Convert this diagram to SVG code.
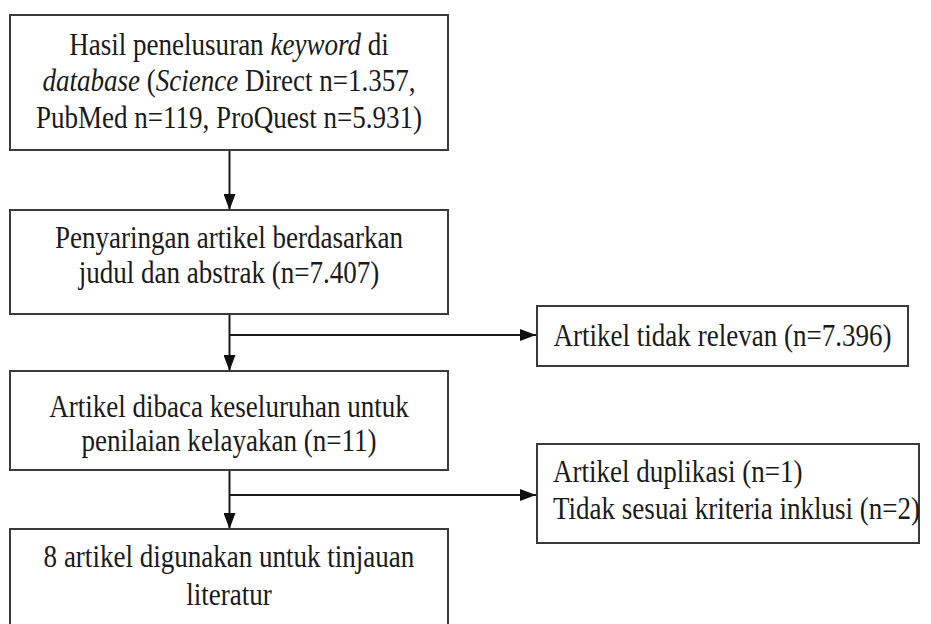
<svg xmlns="http://www.w3.org/2000/svg" width="931" height="624" viewBox="0 0 931 624">
<defs>
<style>
.box{fill:#fff;stroke:#3a3a3a;stroke-width:2}
.t{font-family:"Liberation Serif","Times New Roman",serif;font-size:32px;fill:#1a1a1a}
.c{text-anchor:middle}
.i{font-style:italic}
.ln{stroke:#1a1a1a;stroke-width:2;fill:none}
</style>
<marker id="ah" markerUnits="userSpaceOnUse" markerWidth="16" markerHeight="12" refX="16" refY="6" orient="auto">
<path d="M0,0 L16,6 L0,12 z" fill="#111"/>
</marker>
</defs>
<rect width="931" height="624" fill="#fff"/>
<g id="connectors">
<line class="ln" x1="229.5" y1="150" x2="229.5" y2="210" marker-end="url(#ah)"/>
<line class="ln" x1="229.5" y1="314" x2="229.5" y2="371" marker-end="url(#ah)"/>
<line class="ln" x1="229.5" y1="335" x2="536" y2="335" marker-end="url(#ah)"/>
<line class="ln" x1="229.5" y1="470" x2="229.5" y2="529" marker-end="url(#ah)"/>
<line class="ln" x1="229.5" y1="495" x2="536" y2="495" marker-end="url(#ah)"/>
</g>
<g id="n1">
<rect class="box" x="10" y="15" width="438" height="135"/>
<text class="t c" transform="translate(229,55) scale(0.845,1)">Hasil penelusuran <tspan class="i">keyword</tspan> di</text>
<text class="t c" transform="translate(229,91) scale(0.845,1)"><tspan class="i">database</tspan> (<tspan class="i">Science</tspan> Direct n=1.357,</text>
<text class="t c" transform="translate(229,128) scale(0.845,1)">PubMed n=119, ProQuest n=5.931)</text>
</g>
<g id="n2">
<rect class="box" x="10" y="210" width="438" height="104"/>
<text class="t c" transform="translate(229,248) scale(0.845,1)">Penyaringan artikel berdasarkan</text>
<text class="t c" transform="translate(229,283) scale(0.845,1)">judul dan abstrak (n=7.407)</text>
</g>
<g id="n3">
<rect class="box" x="537" y="306" width="371" height="60"/>
<text class="t c" transform="translate(722.5,346) scale(0.845,1)">Artikel tidak relevan (n=7.396)</text>
</g>
<g id="n4">
<rect class="box" x="10" y="371" width="438" height="99"/>
<text class="t c" transform="translate(229,417) scale(0.845,1)">Artikel dibaca keseluruhan untuk</text>
<text class="t c" transform="translate(229,451) scale(0.845,1)">penilaian kelayakan (n=11)</text>
</g>
<g id="n5">
<rect class="box" x="537" y="444" width="382" height="99"/>
<text class="t" transform="translate(553,482) scale(0.845,1)">Artikel duplikasi (n=1)</text>
<text class="t" transform="translate(553,519) scale(0.845,1)">Tidak sesuai kriteria inklusi (n=2)</text>
</g>
<g id="n6">
<rect class="box" x="10" y="529" width="438" height="110"/>
<text class="t c" transform="translate(229,567) scale(0.845,1)">8 artikel digunakan untuk tinjauan</text>
<text class="t c" transform="translate(229,605) scale(0.845,1)">literatur</text>
</g>
</svg>
